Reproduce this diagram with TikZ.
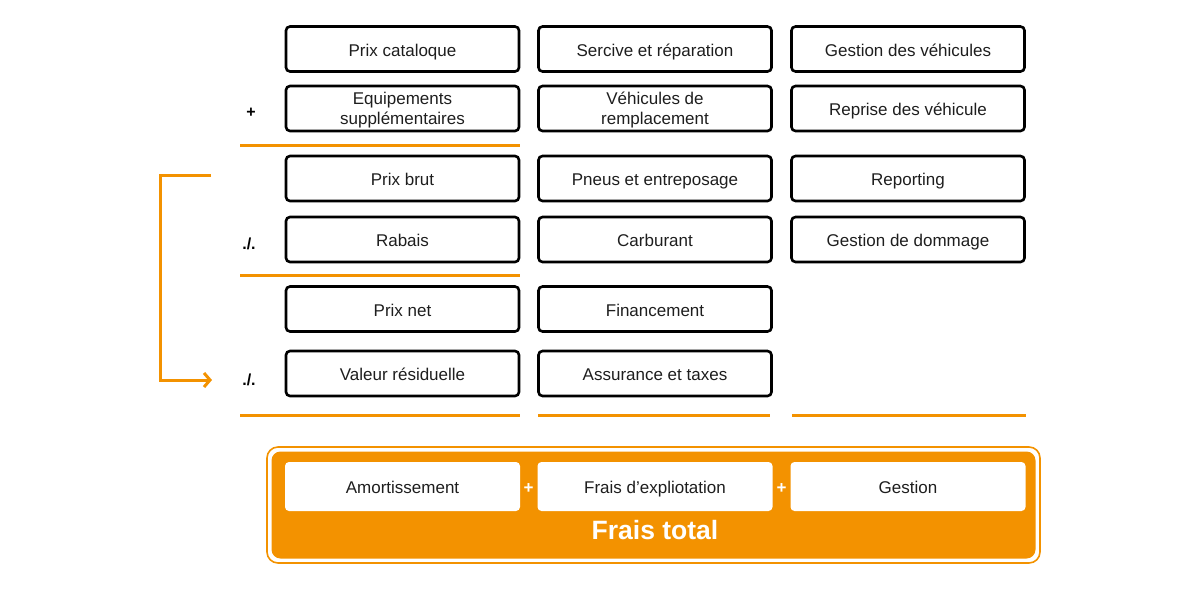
\documentclass[tikz,border=0pt]{standalone}
\usepackage{fontspec}
\setmainfont{Liberation Sans}
\usepackage{xcolor}
\usetikzlibrary{positioning, arrows.meta}

\definecolor{fraisorange}{HTML}{F39200}
\definecolor{textgrey}{HTML}{1E1E1E}

\tikzset{
  costbox/.style={draw=black, line width=2.6pt, rounded corners=4pt, minimum width=233pt,
    minimum height=45pt, align=center, text=textgrey, font=\fontsize{17}{20.5}\selectfont,
    text height=15.5pt, text depth=1.5pt},
  twoline/.style={costbox, text height=, text depth=, inner ysep=1pt},
  totbox/.style={fill=white, rounded corners=4pt, minimum width=235pt, minimum height=49pt,
    text=textgrey, font=\fontsize{17}{18}\selectfont, text height=15.5pt, text depth=1.5pt},
  oper/.style={text=black, font=\bfseries\fontsize{16}{18}\selectfont},
  sumline/.style={draw=fraisorange, line width=3pt}
}

\begin{document}
\begin{tikzpicture}[x=1pt, y=-1pt]
      \useasboundingbox (0,0) rectangle (1180,590);

      % colonne amortissement
      \node[costbox] (pc) at (402.5,49) {Prix cataloque};
      \node[twoline] (eq) at (402.5,108.5) {\rule{0pt}{15.5pt}Equipements\\supplémentaires};
      \node[costbox] (pb) at (402.5,178.5) {Prix brut};
      \node[costbox] (rb) at (402.5,239.5) {Rabais};
      \node[costbox] (pn) at (402.5,309) {Prix net};
      \node[costbox] (vr) at (402.5,373.5) {Valeur résiduelle};

      % colonne exploitation
      \node[costbox] (sr) at (655,49) {Sercive et réparation};
      \node[twoline] (vh) at (655,108.5) {\rule{0pt}{15.5pt}Véhicules de\\remplacement};
      \node[costbox] (pe) at (655,178.5) {Pneus et entreposage};
      \node[costbox] (ca) at (655,239.5) {Carburant};
      \node[costbox] (fi) at (655,309) {Financement};
      \node[costbox] (as) at (655,373.5) {Assurance et taxes};

      % colonne gestion
      \node[costbox] (gv) at (908,49) {Gestion des véhicules};
      \node[costbox] (rv) at (908,108.5) {Reprise des véhicule};
      \node[costbox] (rp) at (908,178.5) {Reporting};
      \node[costbox] (gd) at (908,239.5) {Gestion de dommage};

      % operateurs
      \node[oper] (plus) at (251,113) {+};
      \node[oper] (moinsA) at (249,244) {./.};
      \node[oper] (moinsB) at (249,380) {./.};

      % traits de somme
      \draw[sumline] (240,145) -- (520,145);
      \draw[sumline] (240,275) -- (520,275);
      \draw[sumline] (240,415) -- (520,415);
      \draw[sumline] (538,415) -- (770,415);
      \draw[sumline] (792,415) -- (1026,415);

      % renvoi prix brut -> valeur residuelle
      \coordinate (brTop) at (211,175);
      \coordinate (brBot) at (212,380);
      \draw[draw=fraisorange, line width=3pt, -{Straight Barb[length=6pt, width=14pt]}]
        (brTop) -- (160,175) |- (brBot);

      % frais total
      \draw[fraisorange, line width=1.6pt, rounded corners=11pt] (267,447) rectangle (1040,563);
      \fill[fraisorange, rounded corners=9pt] (271.5,451.5) rectangle (1035.5,558.5);
      \node[totbox] (am) at (402.5,486.5) {Amortissement};
      \node[totbox] (fe) at (655,486.5) {Frais d'expliotation};
      \node[totbox] (ge) at (908,486.5) {Gestion};
      \node[text=white, font=\bfseries\fontsize{17}{18}\selectfont] (pA) at (528.5,488.5) {+};
      \node[text=white, font=\bfseries\fontsize{17}{18}\selectfont] (pB) at (781.5,488.5) {+};
      \node[text=white, font=\bfseries\fontsize{26.5}{28}\selectfont] (ft) at (655,530) {Frais total};
    \end{tikzpicture}
\end{document}
